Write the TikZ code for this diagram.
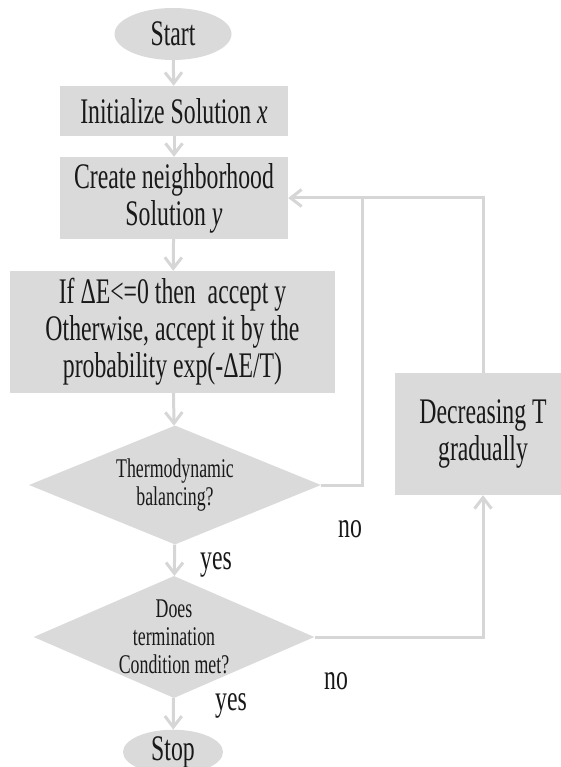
\documentclass[tikz,border=0pt]{standalone}
\usepackage{fontspec}
\setmainfont{Liberation Serif}[FakeStretch=0.66]
\usetikzlibrary{shapes.geometric,arrows.meta}
\definecolor{boxgray}{RGB}{218,218,218}
\definecolor{linegray}{RGB}{214,214,214}
\definecolor{txt}{RGB}{25,25,25}
\tikzset{
  base/.style={fill=boxgray, draw=none, text=txt, align=center, inner sep=0pt,
    font=\fontsize{36}{37}\selectfont},
  term/.style={base, ellipse},
  procbox/.style={base, rectangle},
  decision/.style={base, diamond, font=\fontsize{27}{28}\selectfont},
  conn/.style={draw=linegray, line width=3pt},
  arr/.style={conn, -{Straight Barb[length=11pt,width=17pt,line width=3pt]}},
  lbl/.style={text=txt, inner sep=0pt, font=\fontsize{36}{37}\selectfont}
}
\begin{document}
\begin{tikzpicture}[x=1pt,y=1pt]
\useasboundingbox (0,0) rectangle (561,-767);
\clip (0,0) rectangle (561,-767);
\node[term, minimum width=117pt, minimum height=52pt] (start) at (173,-34) {Start};
\node[procbox, minimum width=228pt, minimum height=50pt] (init) at (174,-111) {Initialize Solution \textit{x}};
\node[procbox, minimum width=228pt, minimum height=82pt] (create) at (174,-198) {Create neighborhood\\Solution \textit{y}};
\node[procbox, minimum width=325pt, minimum height=122pt] (ifbox) at (172.5,-332) {If ΔE<=0 then\ \ accept y\\Otherwise, accept it by the\\probability exp(-ΔE/T)};
\node[decision, shape aspect=2.45, minimum width=292pt, minimum height=119pt] (thermo) at (175,-485) {Thermodynamic\\balancing?};
\node[decision, shape aspect=2.3, minimum width=272pt, minimum height=120pt] (does) at (174,-637) {Does\\termination\\Condition met?};
\node[term, minimum width=100pt, minimum height=44pt] (stop) at (173,-752) {Stop};
\node[procbox, minimum width=176pt, minimum height=122pt] (dec) at (483,-434) {Decreasing T\\gradually};
\coordinate (jt) at (362,-199);
\draw[arr] (start) -- (init);
\draw[arr] (init) -- (create);
\draw[arr] (create) -- (ifbox);
\draw[arr] (ifbox) -- (thermo);
\draw[arr] (thermo) -- (does);
\draw[arr] (does) -- (stop);
\draw[conn] (thermo.east) -| (jt);
\draw[arr] (dec.north) |- (create.east);
\draw[arr] (does.east) -| (dec.south);
\node[lbl] (no1) at (350,-529) {no};
\node[lbl] (yes1) at (216,-565) {yes};
\node[lbl] (no2) at (336,-681) {no};
\node[lbl] (yes2) at (231,-706) {yes};
\end{tikzpicture}
\end{document}
